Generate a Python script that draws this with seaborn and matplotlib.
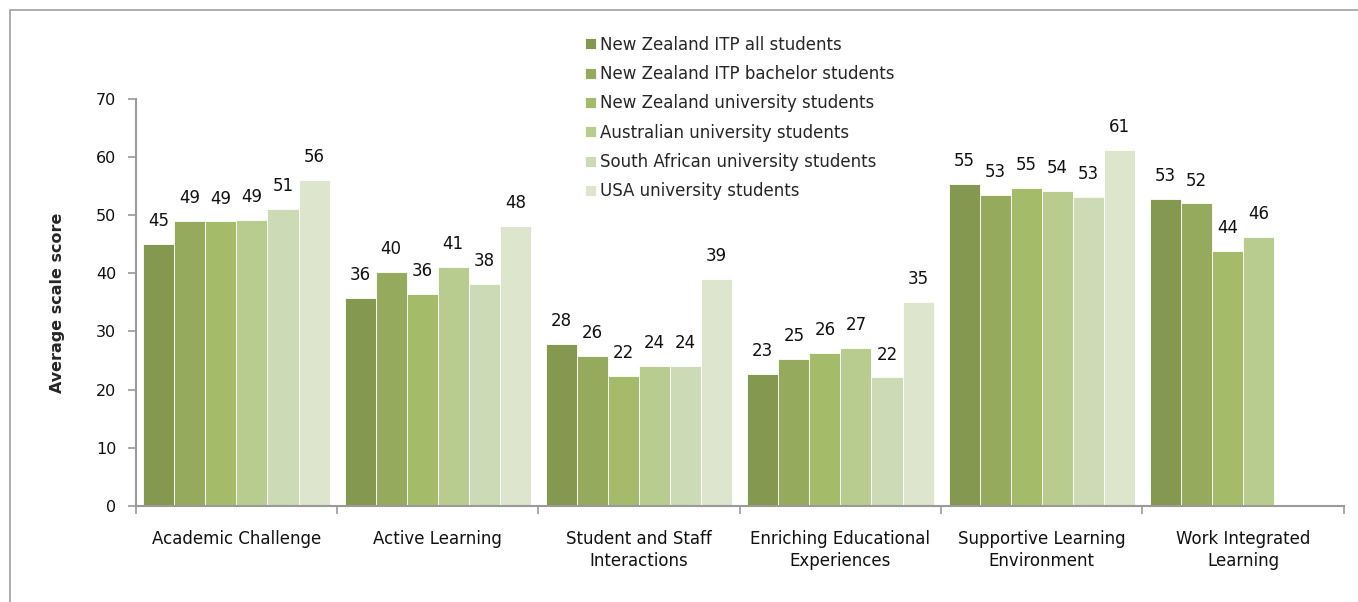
import numpy as np
import pandas as pd
import seaborn as sns
import matplotlib.pyplot as plt
from matplotlib.patches import Rectangle
from matplotlib.ticker import FixedLocator

# -------------------------------------------------------------------
# Data
# -------------------------------------------------------------------
categories = [
    "Academic Challenge",
    "Active Learning",
    "Student and Staff\nInteractions",
    "Enriching Educational\nExperiences",
    "Supportive Learning\nEnvironment",
    "Work Integrated\nLearning",
]

series_names = [
    "New Zealand ITP all students",
    "New Zealand ITP bachelor students",
    "New Zealand university students",
    "Australian university students",
    "South African university students",
    "USA university students",
]

nz_itp_all = [45.0, 35.8, 27.8, 22.7, 55.3, 52.7]
nz_itp_bachelor = [49.0, 40.3, 25.8, 25.3, 53.4, 52.0]
nz_university = [48.9, 36.4, 22.3, 26.3, 54.7, 43.8]
au_university = [49.1, 41.1, 24.0, 27.1, 54.2, 46.2]
sa_university = [51.1, 38.1, 24.0, 22.1, 53.1, np.nan]
usa_university = [56.1, 48.2, 39.1, 35.1, 61.2, np.nan]

colors = ["#84984F", "#95AA5C", "#A4BB69", "#B9CC8F", "#CCDBB5", "#DDE5CD"]

# long format table for seaborn
values = [nz_itp_all, nz_itp_bachelor, nz_university,
          au_university, sa_university, usa_university]
rows = []
for name, vals in zip(series_names, values):
    for cat, v in zip(categories, vals):
        rows.append({"category": cat, "group": name, "score": v})
df = pd.DataFrame(rows)

# -------------------------------------------------------------------
# Plot
# -------------------------------------------------------------------
sns.set_style("white")
plt.rcParams["font.family"] = ["DejaVu Sans"]

fig = plt.figure(figsize=(13.58, 6.02), dpi=100)
ax = fig.add_axes([0.1, 0.1595, 0.8895, 0.6765])

sns.barplot(
    data=df, x="category", y="score", hue="group",
    order=categories, hue_order=series_names,
    palette=colors, width=0.925, saturation=1,
    edgecolor="white", linewidth=0.6, errorbar=None, ax=ax,
)

# value labels above the bars
for cont in ax.containers:
    ax.bar_label(cont, fmt="%.0f", padding=10, fontsize=12, color="#111111")

ax.set_ylim(0, 70)
ax.set_xlim(-0.5, 5.5)
ax.set_yticks(range(0, 71, 10))
ax.set_xlabel("")
ax.set_ylabel("Average scale score", fontsize=11.5, fontweight="bold", labelpad=22)

# axis styling: gray spines, outward ticks at group boundaries
for side in ["top", "right"]:
    ax.spines[side].set_visible(False)
for side in ["left", "bottom"]:
    ax.spines[side].set_color("#9A9A9A")
    ax.spines[side].set_linewidth(1.5)

ax.tick_params(axis="y", which="major", left=True, length=6, width=1.2,
               color="#9A9A9A", labelsize=11.5, pad=8, labelcolor="#111111")
ax.tick_params(axis="x", which="major", length=0, labelsize=12, pad=17,
               labelcolor="#111111")
for lbl in ax.get_xticklabels():
    lbl.set_linespacing(1.35)
ax.xaxis.set_minor_locator(FixedLocator(np.arange(-0.5, 6.0, 1.0)))
ax.tick_params(axis="x", which="minor", bottom=True, length=6, width=1.2,
               color="#9A9A9A")

# legend: no frame, small square handles
ax.legend(
    loc="upper left", bbox_to_anchor=(578 / 1358, 1 - 29 / 602),
    bbox_transform=fig.transFigure, frameon=False, fontsize=12,
    handlelength=0.65, handleheight=0.65, handletextpad=0.3,
    labelspacing=0.68, borderaxespad=0,
)

# outer chart-area border
fig.patches.append(Rectangle(
    (10 / 1358, -0.1), 1.2, 1.1 - 10 / 602,
    transform=fig.transFigure, fill=False, edgecolor="#A0A0A0",
    linewidth=1.2, clip_on=False,
))

plt.savefig("out.png", dpi=100)
